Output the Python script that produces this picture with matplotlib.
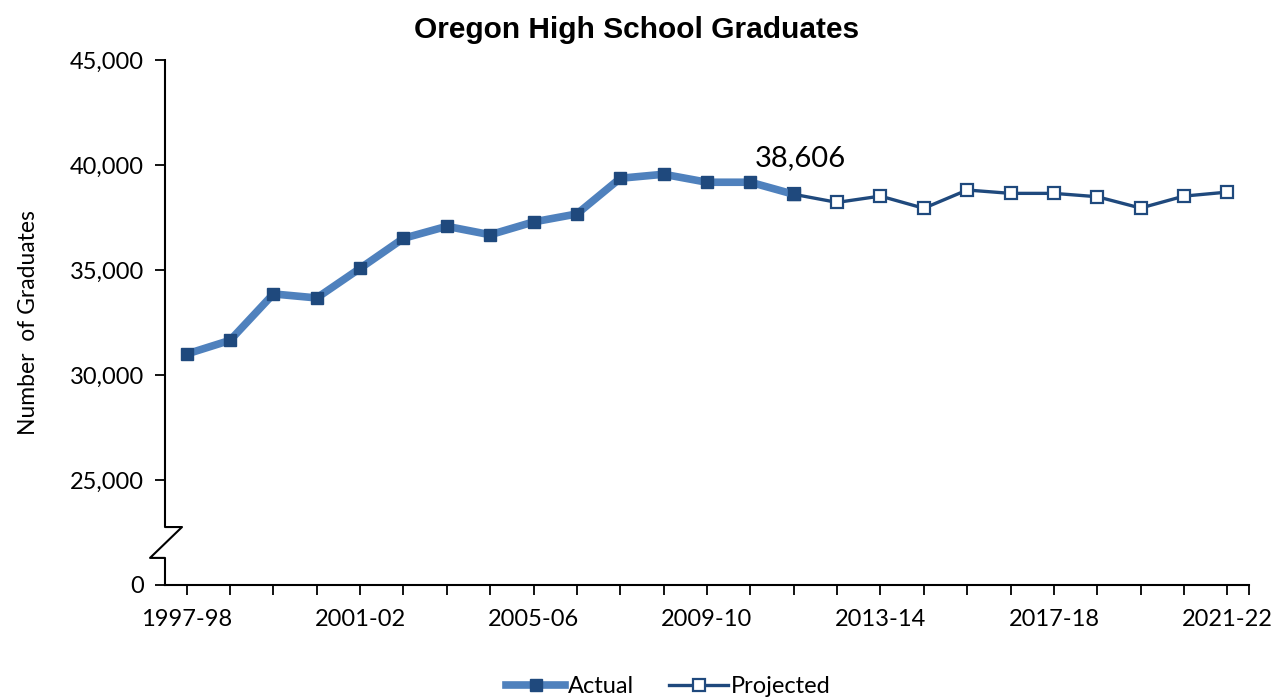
import matplotlib
matplotlib.use("Agg")
from matplotlib import pyplot as plt
from matplotlib import ticker
from matplotlib.lines import Line2D

years = ["1997-98", "1998-99", "1999-00", "2000-01", "2001-02", "2002-03", "2003-04",
         "2004-05", "2005-06", "2006-07", "2007-08", "2008-09", "2009-10", "2010-11",
         "2011-12", "2012-13", "2013-14", "2014-15", "2015-16", "2016-17", "2017-18",
         "2018-19", "2019-20", "2020-21", "2021-22"]
actual = [31000, 31650, 33860, 33670, 35080, 36510, 37080, 36680, 37290, 37670,
          39370, 39560, 39180, 39180, 38606]
projected = [38606, 38220, 38520, 37940, 38810, 38650, 38650, 38490, 37950, 38520, 38710]

light_blue = "#4F81BD"
navy = "#1F497D"
font = "Lato"

fig = plt.figure(figsize=(12.83, 6.98), dpi=100)
ax = fig.add_axes([0.1286, 0.1619, 0.8449, 0.7521])

x_act = list(range(len(actual)))
x_proj = list(range(len(actual) - 1, len(actual) - 1 + len(projected)))

ax.plot(x_proj, projected, color=navy, lw=2.4, marker="s", ms=8,
        mfc="white", mec=navy, mew=1.6, zorder=3)
ax.plot(x_act, actual, color=light_blue, lw=5.5, marker="s", ms=9,
        mfc=navy, mec=navy, zorder=4, solid_capstyle="round")

# label on last actual value
ax.text(x_act[-1] + 0.15, actual[-1] + 1100, f"{actual[-1]:,}", ha="center", va="bottom",
        fontsize=21, family=font)

ax.set_xlim(-0.5, len(years) - 0.5)
ax.set_ylim(20000, 45000)

ax.set_yticks([20000, 25000, 30000, 35000, 40000, 45000])
ax.yaxis.set_major_formatter(ticker.FuncFormatter(
    lambda v, p: "0" if v == 20000 else f"{v:,.0f}"))
ax.set_xticks(range(0, len(years), 4))
ax.set_xticklabels(years[::4])
ax.set_xticks(list(range(len(years))) + [len(years) - 0.5], minor=True)

ax.tick_params(axis="both", direction="out", labelsize=17, length=7, width=1.3, color="black")
ax.tick_params(axis="x", which="minor", length=7, width=1.3)
ax.tick_params(axis="x", pad=10)
ax.tick_params(axis="y", pad=8)
for lab in ax.get_xticklabels() + ax.get_yticklabels():
    lab.set_family(font)

for s in ["top", "right", "left"]:
    ax.spines[s].set_visible(False)
ax.spines["bottom"].set_linewidth(1.5)

# broken y-axis drawn by hand
tr = ax.get_yaxis_transform()
ax.plot([0, 0, 0.0157, -0.0138, 0, 0], [45000, 22760, 22760, 21290, 21290, 20000],
        color="black", lw=1.5, transform=tr, clip_on=False, zorder=5)

ax.set_ylabel("Number  of Graduates", fontsize=16.5, family=font, labelpad=22)
fig.suptitle("Oregon High School Graduates", x=0.496, y=0.957, va="center",
             fontsize=21.5, fontweight="bold", family="Liberation Sans")

handles = [
    Line2D([], [], color=light_blue, lw=5.5, marker="s", ms=9, mfc=navy, mec=navy),
    Line2D([], [], color=navy, lw=2.4, marker="s", ms=8, mfc="white", mec=navy, mew=1.6),
]
fig.legend(handles, ["Actual", "Projected"], loc="center", bbox_to_anchor=(0.521, 0.016),
           ncol=2, frameon=False, prop={"family": font, "size": 17},
           handlelength=2.5, handletextpad=0.1, columnspacing=1.5)

fig.savefig("out.png", dpi=100)
